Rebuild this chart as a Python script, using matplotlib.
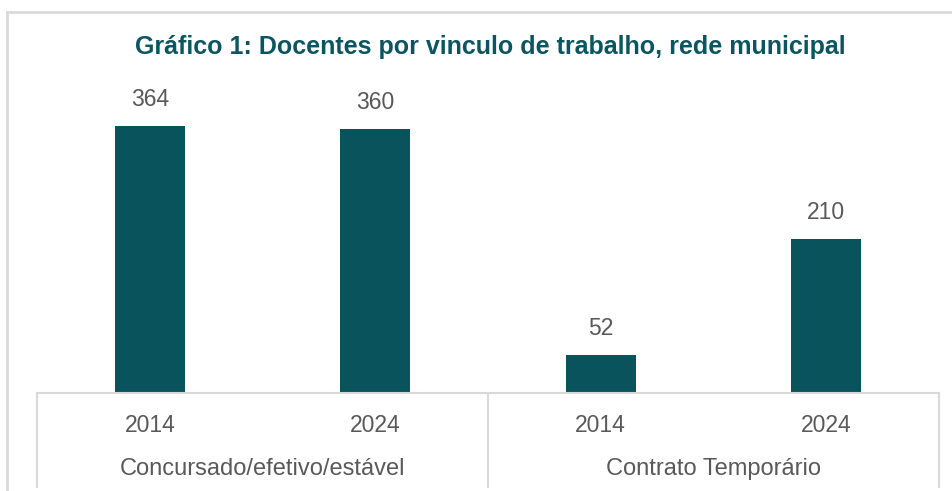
import matplotlib.pyplot as plt
from matplotlib.lines import Line2D

# dados
grupos = ["Concursado/efetivo/estável", "Contrato Temporário"]
anos = ["2014", "2024", "2014", "2024"]
valores = [364, 360, 52, 210]

cor_barra = "#08535C"
cor_texto = "#595959"
cor_linha = "#D9D9D9"

fig = plt.figure(figsize=(9.53, 4.91), dpi=100)

# moldura externa (recortada)
fig.add_artist(Line2D([7 / 953, 7 / 953], [0, 1 - 12 / 491], color=cor_linha, lw=2))
fig.add_artist(Line2D([7 / 953, 1], [1 - 12 / 491, 1 - 12 / 491], color=cor_linha, lw=2))

ax = fig.add_axes([37.3 / 953, 98 / 491, (938.7 - 37.3) / 953, 313 / 491])
x = list(range(len(valores)))
barras = ax.bar(x, valores, width=0.31, color=cor_barra)
ax.set_xlim(-0.5, 3.5)
ax.set_ylim(0, 313 / 0.7335)

fonte = ["Liberation Sans", "DejaVu Sans"]
for b, v in zip(barras, valores):
    ax.annotate(str(v), (b.get_x() + b.get_width() / 2, v), xytext=(0, 19),
                textcoords="offset points", ha="center", va="center",
                fontsize=16.5, color=cor_texto, family=fonte)

for s in ["top", "right", "left"]:
    ax.spines[s].set_visible(False)
ax.spines["bottom"].set_color(cor_linha)
ax.spines["bottom"].set_linewidth(1.5)
ax.set_yticks([])
ax.set_xticks([])

# rótulos do eixo x (anos e grupos)
for xi, a in zip(x, anos):
    ax.text(xi, -32 / 0.7335, a, ha="center", va="center", fontsize=16.5,
            color=cor_texto, family=fonte)
for gi, g in enumerate(grupos):
    ax.text(gi * 2 + 0.5, -76 / 0.7335, g, ha="center", va="center", fontsize=17,
            color=cor_texto, family=fonte)

# separadores dos grupos
for xs in [-0.5, 1.5, 3.5]:
    ax.add_line(Line2D([xs, xs], [0, -94 / 0.7335], color=cor_linha, lw=1.5,
                       clip_on=False))

fig.text(490 / 953, 1 - 47 / 491, "Gráfico 1: Docentes por vinculo de trabalho, rede municipal",
         ha="center", va="center", fontsize=18, fontweight="bold", color="#0B5560",
         family=fonte)

fig.savefig("out.png", dpi=100)
